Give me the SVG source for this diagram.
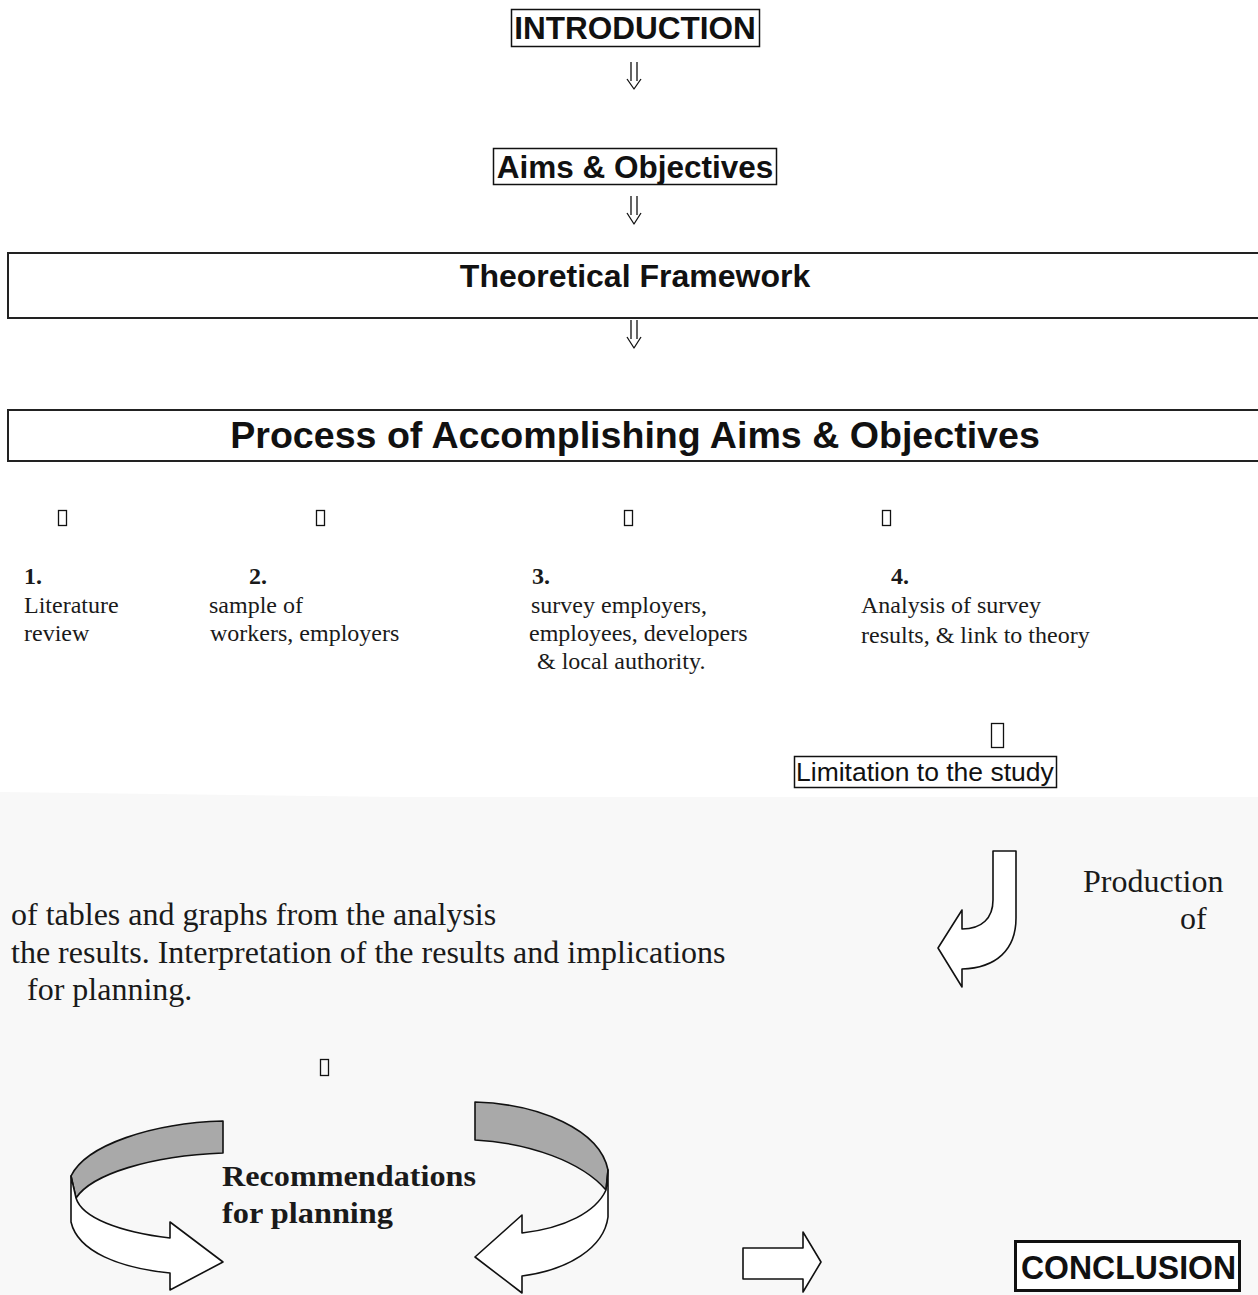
<svg xmlns="http://www.w3.org/2000/svg" width="1258" height="1295" viewBox="0 0 1258 1295">
  <style>
    .sans { font-family: "Liberation Sans", Arial, sans-serif; fill: #111; }
    .serif { font-family: "Liberation Serif", "Times New Roman", serif; fill: #1a1a1a; }
    .bold { font-weight: bold; }
    .box { fill: none; stroke: #111; stroke-width: 1.5; }
    .wide { fill: none; stroke: #222; stroke-width: 2; }
    .arrow { fill: none; stroke: #111; stroke-width: 1.3; stroke-linejoin: round; }
    .shape { fill: #fff; stroke: #111; stroke-width: 1.6; stroke-linejoin: round; }
    .band { fill: #a9a9a9; stroke: #111; stroke-width: 1.6; stroke-linejoin: round; }
    .tofu { fill: none; stroke: #111; stroke-width: 1.3; }
    .item { font-size: 24px; }
    .para { font-size: 32px; }
  </style>

  <!-- page: white upper half, light grey lower half -->
  <rect x="0" y="0" width="1258" height="1295" fill="#ffffff"/>
  <polygon points="0,792 400,797 1258,797 1258,1295 0,1295" fill="#f8f8f8"/>

  <!-- connectors -->
  <g id="connectors">
    <path class="arrow" d="M631,62 V81 M637,62 V81 M627,79 L634,89 L641,79"/>
    <path class="arrow" d="M631,196 V215 M637,196 V215 M627,213 L634,224 L641,213"/>
    <path class="arrow" d="M631,320 V339 M637,320 V339 M627,337 L634,348 L641,337"/>

    <!-- placeholder glyph boxes above each step -->
    <rect class="tofu" x="58.5" y="510.5" width="8" height="15"/>
    <rect class="tofu" x="316.5" y="510.5" width="8" height="15"/>
    <rect class="tofu" x="624.5" y="510.5" width="8" height="15"/>
    <rect class="tofu" x="882.5" y="510.5" width="8" height="15"/>
    <rect class="tofu" x="991.5" y="723.5" width="12" height="24" stroke-width="1.8"/>
    <rect class="tofu" x="320.5" y="1059.5" width="8" height="16"/>

    <!-- hooked arrow turning down-left -->
    <path class="shape" d="M993,851 L1016,851 L1016,918 C1016,950 996,968 962,969 L962,987 L938,948 L962,910 L962,929 C982,929 993,918 993,900 Z"/>

    <!-- left curved ribbon arrow -->
    <path class="band" d="M223,1121 C152,1123 86,1145 71,1176 L76,1198 C92,1174 150,1156 223,1153 Z"/>
    <path class="shape" d="M71,1176 L71,1222 C78,1252 120,1268 170,1273 L170,1290 L223,1262 L170,1222 L170,1238 C120,1232 82,1218 76,1198 Z"/>

    <!-- right curved ribbon arrow -->
    <path class="band" d="M475,1102 C540,1104 600,1130 608,1170 L606,1190 C582,1162 530,1143 475,1140 Z"/>
    <path class="shape" d="M608,1170 L608,1217 C604,1248 568,1270 522,1276 L522,1293 L475,1257 L522,1215 L522,1233 C565,1228 596,1212 606,1190 Z"/>

    <!-- block arrow towards conclusion -->
    <path class="shape" d="M743,1248 L803,1248 L803,1232 L821,1262 L803,1292 L803,1279 L743,1279 Z"/>
  </g>

  <g id="introduction">
    <rect class="box" x="511.5" y="9.5" width="248" height="37"/>
    <text class="sans bold" x="635" y="39" font-size="31.5" text-anchor="middle">INTRODUCTION</text>
  </g>

  <g id="aims">
    <rect class="box" x="493.5" y="148.5" width="283" height="36"/>
    <text class="sans bold" x="635" y="178" font-size="31.5" text-anchor="middle">Aims &amp; Objectives</text>
  </g>

  <g id="theoretical-framework">
    <rect class="wide" x="8" y="253" width="1262" height="65"/>
    <text class="sans bold" x="635" y="287" font-size="32" text-anchor="middle">Theoretical Framework</text>
  </g>

  <g id="process">
    <rect class="wide" x="8" y="410" width="1262" height="51"/>
    <text class="sans bold" x="635" y="448" font-size="37.6" text-anchor="middle">Process of Accomplishing Aims &amp; Objectives</text>
  </g>

  <g id="step-1">
    <text class="serif bold item" x="24" y="584">1.</text>
    <text class="serif item" x="24" y="613">Literature</text>
    <text class="serif item" x="24" y="641">review</text>
  </g>

  <g id="step-2">
    <text class="serif bold item" x="249" y="584">2.</text>
    <text class="serif item" x="209" y="613">sample of</text>
    <text class="serif item" x="210" y="641">workers, employers</text>
  </g>

  <g id="step-3">
    <text class="serif bold item" x="532" y="584">3.</text>
    <text class="serif item" x="531" y="613">survey employers,</text>
    <text class="serif item" x="529" y="641">employees, developers</text>
    <text class="serif item" x="537" y="669">&amp; local authority.</text>
  </g>

  <g id="step-4">
    <text class="serif bold item" x="891" y="584">4.</text>
    <text class="serif item" x="861" y="613">Analysis of survey</text>
    <text class="serif item" x="861" y="643">results, &amp; link to theory</text>
  </g>

  <g id="limitation">
    <rect class="box" x="794.5" y="756.5" width="262" height="31" stroke-width="1.2"/>
    <text class="sans" x="796" y="781" font-size="26.5">Limitation to the study</text>
  </g>

  <g id="production">
    <text class="serif para" x="1083" y="892">Production</text>
    <text class="serif para" x="1180" y="929">of</text>
    <text class="serif para" x="11" y="925">of tables and graphs from the analysis</text>
    <text class="serif para" x="11" y="963">the results. Interpretation of the results and implications</text>
    <text class="serif para" x="27" y="1000">for planning.</text>
  </g>

  <g id="recommendations">
    <text class="serif bold" x="222" y="1186" font-size="30" textLength="254" lengthAdjust="spacingAndGlyphs">Recommendations</text>
    <text class="serif bold" x="222" y="1223" font-size="30" textLength="171" lengthAdjust="spacingAndGlyphs">for planning</text>
  </g>

  <g id="conclusion">
    <rect x="1015.5" y="1241.5" width="224" height="49" fill="#fff" stroke="#111" stroke-width="3"/>
    <text class="sans bold" x="1021" y="1279" font-size="34" textLength="215" lengthAdjust="spacingAndGlyphs">CONCLUSION</text>
  </g>
</svg>
